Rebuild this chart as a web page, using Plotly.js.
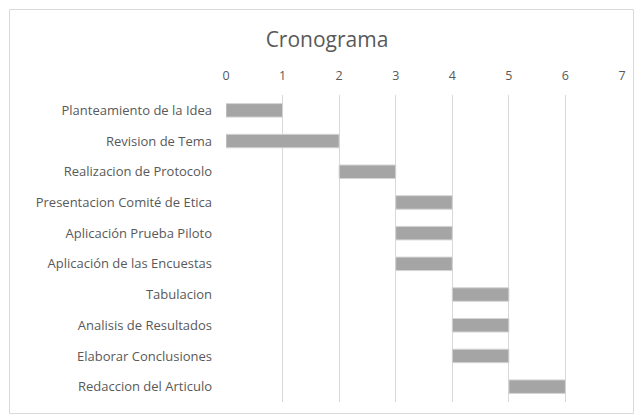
<!DOCTYPE html>
<html><head><meta charset="utf-8">
<script src="https://cdn.plot.ly/plotly-3.0.1.min.js"></script>
<style>html,body{margin:0;padding:0;background:#fff;}#chart{width:635px;height:415px;}</style>
</head><body><div id="chart"></div>
<script>
const tasks = ["Planteamiento de la Idea","Revision de Tema","Realizacion de Protocolo","Presentacion Comité de Etica","Aplicación Prueba Piloto","Aplicación de las Encuestas","Tabulacion","Analisis de Resultados","Elaborar Conclusiones","Redaccion del Articulo"];
const start = [0,0,2,3,3,3,4,4,4,5];
const duration = [1,2,1,1,1,1,1,1,1,1];
const xTicks = [0,1,2,3,4,5,6,7];

const W=635,H=415,L=226,R=13,T=95,B=13;
const pw=W-L-R, ph=H-T-B;
const px = v => (v-L)/pw;
const py = v => 1-(v-T)/ph;
const font = "Open Sans, sans-serif";

Plotly.newPlot('chart',[{
  type:'bar', orientation:'h', y:tasks, x:duration, base:start, width:0.44,
  marker:{color:'#a5a5a5', line:{color:'#d4d4d4', width:1}}, hoverinfo:'none'
}],{
  width:W,height:H, margin:{l:L,r:R,t:T,b:B,pad:0},
  paper_bgcolor:'#fff', plot_bgcolor:'#fff', showlegend:false,
  font:{family:font,size:13,color:'#595959'},
  title:{text:'Cronograma', font:{family:font,size:21,color:'#595959'}, x:327/W, xanchor:'center', xref:'container', y:1-40/H, yanchor:'middle', yref:'container'},
  xaxis:{side:'top', range:[0,7], tickvals:xTicks, ticktext:xTicks.map(String), showgrid:true, gridcolor:'#d9d9d9', gridwidth:1, zeroline:false, showline:false, ticks:'', ticklen:0, ticklabelstandoff:12, tickfont:{size:12.5,color:'#595959'}, fixedrange:true},
  yaxis:{type:'category', autorange:'reversed', showgrid:false, zeroline:false, showline:false, ticks:'', ticklabelstandoff:13, tickfont:{size:13,color:'#595959'}, fixedrange:true},
  shapes:[{type:'rect', xref:'paper', yref:'paper', x0:px(9.5), x1:px(633.5), y0:py(413.5), y1:py(9.5), line:{color:'#d9d9d9',width:1}, fillcolor:'rgba(0,0,0,0)', layer:'below'}]
},{staticPlot:true});
</script></body></html>
